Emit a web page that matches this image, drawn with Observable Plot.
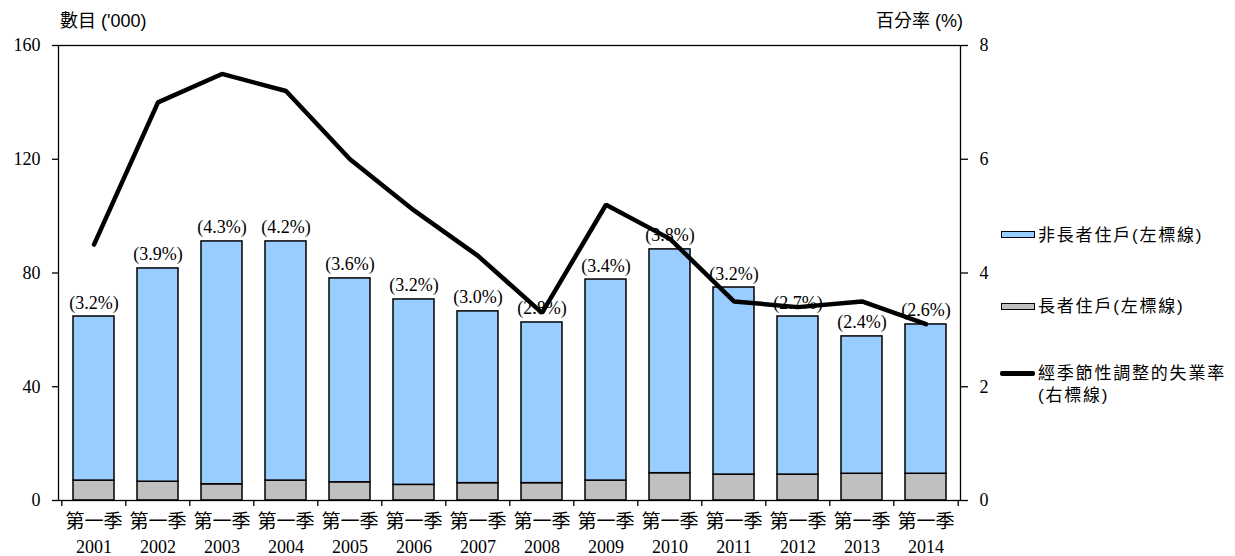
<!DOCTYPE html>
<html><head><meta charset="utf-8">
<script src="https://cdn.jsdelivr.net/npm/d3@7"></script>
<script src="https://cdn.jsdelivr.net/npm/@observablehq/plot@0.6"></script>
<style>
body{margin:0;background:#fff;}
#wrap{position:relative;width:1235px;height:556px;overflow:hidden;}
.t{position:absolute;font-family:"Liberation Sans","Noto Sans CJK TC",sans-serif;font-size:18px;color:#000;white-space:nowrap;line-height:1;}
.lg{position:absolute;font-family:"Liberation Sans","Noto Sans CJK TC",sans-serif;font-size:17px;letter-spacing:1.8px;color:#000;white-space:nowrap;line-height:22px;}
.sw{position:absolute;box-sizing:border-box;border:1.5px solid #000;}
</style></head><body><div id="wrap"></div>
<script>
// ---- data ----
const years = ["2001","2002","2003","2004","2005","2006","2007","2008","2009","2010","2011","2012","2013","2014"];
const quarterLabel = "第一季";
const seriesNames = ["長者住戶","非長者住戶"];
const elderly    = [7.0, 6.6, 5.7, 7.0, 6.4, 5.5, 6.1, 6.1, 7.0, 9.6, 9.1, 9.1, 9.4, 9.4];
const nonElderly = [57.7, 75.0, 85.4, 84.1, 71.7, 65.2, 60.4, 56.5, 70.7, 78.7, 65.8, 55.6, 48.3, 52.5];
const sharePct   = [3.2, 3.9, 4.3, 4.2, 3.6, 3.2, 3.0, 2.8, 3.4, 3.8, 3.2, 2.7, 2.4, 2.6];
const unemployment = [4.5, 7.0, 7.5, 7.2, 6.0, 5.1, 4.3, 3.3, 5.2, 4.6, 3.5, 3.4, 3.5, 3.1];
const leftTicks = [0, 40, 80, 120, 160];
const rightMax = 8, leftMax = 160;
const legendLabels = ["非長者住戶(左標線)", "長者住戶(左標線)", "經季節性調整的失業率", "(右標線)"];

// ---- layout ----
const W = 1235, H = 556, mL = 58, mR = 275, mT = 45, mB = 56;
const step = (W - mL - mR) / years.length;
const k = leftMax / rightMax;
const blue = "#99CCFF", gray = "#C0C0C0";
const serif = '"Liberation Serif","Noto Sans CJK TC",serif';
const cjk = '"Noto Sans CJK TC","Liberation Serif",sans-serif';

const stacked = years.flatMap((y, i) => [
  {year: y, series: seriesNames[0], value: elderly[i]},
  {year: y, series: seriesNames[1], value: nonElderly[i]}
]);
const totals = years.map((y, i) => ({year: y, total: elderly[i] + nonElderly[i], label: `(${sharePct[i].toFixed(1)}%)`}));
const rates = years.map((y, i) => ({year: y, rate: unemployment[i]}));

const chart = Plot.plot({
  width: W, height: H,
  marginLeft: mL, marginRight: mR, marginTop: mT, marginBottom: mB,
  style: {fontFamily: serif, fontSize: "18px", color: "#000", background: "transparent", overflow: "visible"},
  x: {domain: years, paddingInner: 0.36, paddingOuter: 0.18, axis: null},
  y: {domain: [0, leftMax], axis: null},
  color: {domain: seriesNames, range: [gray, blue]},
  marks: [
    Plot.barY(stacked, {x: "year", y: "value", fill: "series", stroke: "#000", strokeWidth: 1.5, order: seriesNames}),
    Plot.frame({stroke: "#000", strokeWidth: 1.3}),
    Plot.axisY({anchor: "left", label: null, ticks: leftTicks, tickSize: 6, tickPadding: 12, fontSize: 18, strokeWidth: 1.3}),
    Plot.axisY({anchor: "right", label: null, ticks: leftTicks, tickSize: 7, tickPadding: 12, fontSize: 18, strokeWidth: 1.3, tickFormat: d => d / k}),
    Plot.axisX({label: null, tickSize: 6, tickFormat: () => "", dx: -step / 2, strokeWidth: 1.3}),
    Plot.axisX({label: null, ticks: [years[years.length - 1]], tickSize: 6, tickFormat: () => "", dx: step / 2, strokeWidth: 1.3}),
    Plot.axisX({label: null, tickSize: 0, tickPadding: 14, tickFormat: () => quarterLabel, fontSize: 19, fontFamily: cjk, ariaLabel: "quarter-labels"}),
    Plot.axisX({label: null, tickSize: 0, tickPadding: 40, tickFormat: d => d, fontSize: 18, ariaLabel: "year-labels"}),
    Plot.line(rates, {x: "year", y: d => d.rate * k, stroke: "#000", strokeWidth: 4.5, strokeLinejoin: "miter"}),
    Plot.text(totals, {x: "year", y: "total", text: "label", lineAnchor: "bottom", dy: -8, fontSize: 18, ariaLabel: "bar-labels"})
  ]
});

d3.select(chart).selectAll('g[aria-label="quarter-labels"] text').style("letter-spacing", "1.2px");
d3.select(chart).selectAll('g[aria-label="year-labels"] text, g[aria-label="bar-labels"] text').style("letter-spacing", "0.8px");

const wrap = document.getElementById("wrap");
wrap.appendChild(chart);

function add(cls, text, css) {
  const d = document.createElement("div");
  d.className = cls;
  if (text != null) d.textContent = text;
  Object.assign(d.style, css);
  wrap.appendChild(d);
  return d;
}
add("t", "數目 ('000)", {left: "60px", top: "12px"});
add("t", "百分率 (%)", {right: (W - 963) + "px", top: "12px"});

add("sw", null, {left: "1001px", top: "231px", width: "34px", height: "7px", background: blue});
add("lg", legendLabels[0], {left: "1038px", top: "225px"});
add("sw", null, {left: "1001px", top: "303px", width: "34px", height: "7px", background: gray});
add("lg", legendLabels[1], {left: "1038px", top: "296px"});
add("sw", null, {left: "1000px", top: "371px", width: "35px", height: "5px", background: "#000", border: "none", borderRadius: "2px"});
add("lg", legendLabels[2] + "\n" + legendLabels[3], {left: "1038px", top: "363px", whiteSpace: "pre"});
</script></body></html>
